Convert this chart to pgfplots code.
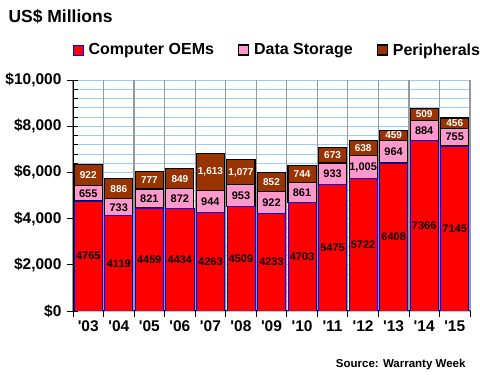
\documentclass[border=0pt]{standalone}
\usepackage{pgfplots}
\usepackage{pgfplotstable}
\usepackage{fontspec}
\setmainfont{Liberation Sans}
\pgfplotsset{compat=1.18}
\definecolor{oemred}{HTML}{FF0000}
\definecolor{oemedge}{HTML}{0000FF}
\definecolor{stpink}{HTML}{FF99CC}
\definecolor{pebrown}{HTML}{993300}
\definecolor{gridblue}{HTML}{99CCFF}
\definecolor{vgray}{HTML}{999999}
\pgfplotstableread{
x oem st pe oeml stl pel
0 4765 655 922 4765 655 922
1 4119 733 886 4119 733 886
2 4459 821 777 4459 821 777
3 4434 872 849 4434 872 849
4 4263 944 1613 4263 944 1,613
5 4509 953 1077 4509 953 1,077
6 4233 922 852 4233 922 852
7 4703 861 744 4703 861 744
8 5475 933 673 5475 933 673
9 5722 1005 638 5722 1,005 638
10 6408 964 459 6408 964 459
11 7366 884 509 7366 884 509
12 7145 755 456 7145 755 456
}\data
\begin{document}
\begin{tikzpicture}
\useasboundingbox (0,0) rectangle (480pt,380pt);
\pgfplotsset{
  base/.style={
    at={(73pt,69pt)}, anchor=south west, scale only axis,
    width=397pt, height=231pt,
    xmin=-0.5, xmax=12.5, ymin=0, ymax=10000,
    scaled y ticks=false,
  },
  boxlegend/.style={legend image code/.code={\draw[##1] (0pt,-5pt) rectangle (10pt,5pt);}},
}
% background: horizontal light blue grid
\begin{axis}[base, axis line style={draw=none},
  ytick={0,400,...,10000}, yticklabels={}, xtick=\empty,
  ymajorgrids, grid style={gridblue, line width=0.8pt},
  tick style={draw=none}]
\addplot[draw=none] coordinates {(0,0)};
\end{axis}
% background: vertical gray lines at category boundaries, outer tick marks
\begin{axis}[base, axis line style={draw=none},
  xtick={-0.5,0.5,...,12.5}, xticklabels={},
  ytick={0,2000,...,10000}, yticklabels={},
  xmajorgrids, grid style={vgray, line width=1.2pt},
  xtick pos=bottom, ytick pos=left, tick align=outside, major tick length=6pt,
  tick style={black, line width=0.8pt}]
\addplot[draw=none] coordinates {(0,0)};
\end{axis}
\begin{axis}[base,
  ybar stacked, bar width=0.92,
  axis x line*=bottom, axis y line*=left,
  axis line style={black, line width=1pt},
  ytick={0,2000,...,10000}, minor y tick num=4,
  ytick align=inside, major tick length=4.5pt, minor tick length=5pt,
  tick style={black, line width=0.8pt},
  yticklabel={\$\pgfmathprintnumber{\tick}},
  /pgf/number format/1000 sep={,},
  /pgf/number format/assume math mode=true,
  yticklabel style={font=\bfseries\fontsize{15.5}{16}\selectfont, xshift=-8pt},
  xtick={0,...,12},
  xticklabels={\textquotesingle03,\textquotesingle04,\textquotesingle05,\textquotesingle06,\textquotesingle07,\textquotesingle08,\textquotesingle09,\textquotesingle10,\textquotesingle11,\textquotesingle12,\textquotesingle13,\textquotesingle14,\textquotesingle15},
  xtick style={draw=none},
  xticklabel style={font=\bfseries\fontsize{15.5}{16}\selectfont, yshift=-6pt},
  legend style={at={(0.515,1.13)}, anchor=center, legend columns=3, draw=none, fill=none,
    font=\bfseries\fontsize{16}{18}\selectfont,
    /tikz/every odd column/.append style={column sep=3pt},
    /tikz/every even column/.append style={column sep=22pt}},
]
\addplot[fill=oemred, draw=oemedge, line width=0.8pt, boxlegend] table[x=x, y=oem] {\data};
\addplot[fill=stpink, draw=black, line width=1.1pt, boxlegend] table[x=x, y=st] {\data};
\addplot[fill=pebrown, draw=black, line width=1.1pt, boxlegend] table[x=x, y=pe] {\data};
\legend{Computer OEMs, Data Storage, Peripherals}
\end{axis}
\begin{axis}[base, hide axis]
\addplot[draw=none, nodes near coords, point meta=explicit symbolic,
  every node near coord/.style={anchor=center, black, font=\bfseries\fontsize{11}{12}\selectfont}]
  table[x=x, y expr=\thisrow{oem}/2, meta=oeml] {\data};
\addplot[draw=none, nodes near coords, point meta=explicit symbolic,
  every node near coord/.style={anchor=center, black, font=\bfseries\fontsize{11}{12}\selectfont}]
  table[x=x, y expr=\thisrow{oem}+\thisrow{st}/2, meta=stl] {\data};
\addplot[draw=none, nodes near coords, point meta=explicit symbolic,
  every node near coord/.style={anchor=center, white, font=\bfseries\fontsize{10}{11}\selectfont}]
  table[x=x, y expr=\thisrow{oem}+\thisrow{st}+\thisrow{pe}/2, meta=pel] {\data};
\end{axis}
\node[anchor=west, font=\bfseries\fontsize{17.5}{20}\selectfont] at (5pt,363pt) {US\$ Millions};
\node[anchor=east, font=\bfseries\fontsize{11.5}{14}\selectfont] at (469pt,15pt) {Source: Warranty Week};
\end{tikzpicture}
\end{document}
